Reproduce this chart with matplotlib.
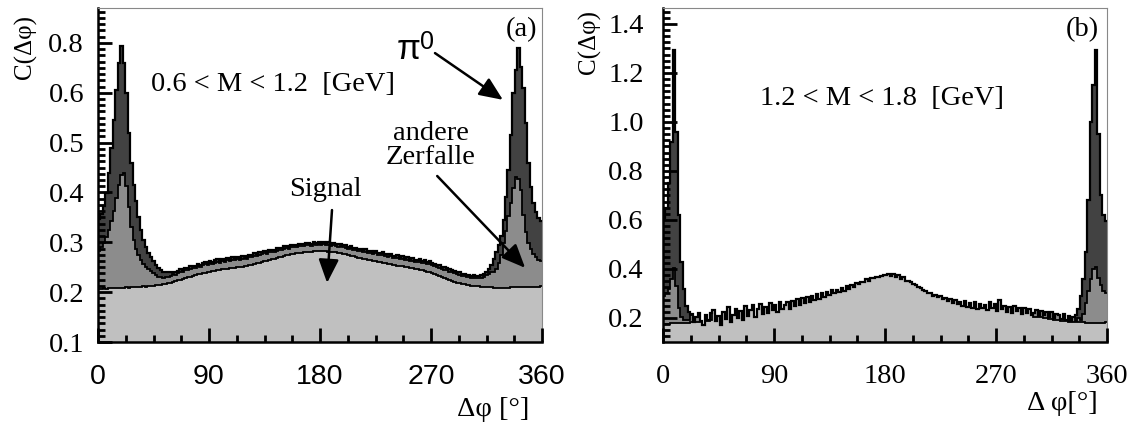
import numpy as np
import matplotlib
matplotlib.use('Agg')
import matplotlib.pyplot as plt
from matplotlib.ticker import FixedLocator, NullFormatter

SERIF = ['Liberation Serif', 'DejaVu Serif']
SANS = ['Liberation Sans', 'DejaVu Sans']

# ---------------- data ----------------
bin_edges = np.arange(0, 361, 2)          # Delta phi bin edges [deg]

# panel (a): 0.6 < M < 1.2 GeV  (cumulative stack levels)
signal_a = [
    0.207, 0.207, 0.208, 0.207, 0.208, 0.208, 0.209, 0.208, 0.209, 0.209,
    0.209, 0.210, 0.209, 0.210, 0.210, 0.211, 0.210, 0.211, 0.212, 0.211,
    0.212, 0.213, 0.212, 0.214, 0.214, 0.215, 0.216, 0.217, 0.218, 0.219,
    0.221, 0.222, 0.224, 0.225, 0.227, 0.228, 0.230, 0.231, 0.233, 0.234,
    0.236, 0.237, 0.238, 0.239, 0.240, 0.241, 0.242, 0.243, 0.244, 0.245,
    0.246, 0.246, 0.247, 0.248, 0.248, 0.249, 0.250, 0.250, 0.251, 0.252,
    0.253, 0.254, 0.255, 0.256, 0.258, 0.259, 0.260, 0.262, 0.263, 0.265,
    0.266, 0.267, 0.269, 0.270, 0.271, 0.273, 0.274, 0.275, 0.276, 0.277,
    0.278, 0.278, 0.279, 0.280, 0.280, 0.281, 0.281, 0.282, 0.282, 0.282,
    0.282, 0.282, 0.282, 0.281, 0.281, 0.281, 0.280, 0.279, 0.278, 0.277,
    0.276, 0.275, 0.273, 0.272, 0.271, 0.269, 0.268, 0.267, 0.266, 0.265,
    0.264, 0.263, 0.262, 0.261, 0.260, 0.259, 0.258, 0.257, 0.256, 0.255,
    0.254, 0.253, 0.253, 0.252, 0.251, 0.250, 0.249, 0.248, 0.247, 0.246,
    0.245, 0.244, 0.243, 0.241, 0.240, 0.238, 0.236, 0.234, 0.232, 0.230,
    0.228, 0.226, 0.224, 0.222, 0.221, 0.219, 0.218, 0.217, 0.216, 0.215,
    0.214, 0.213, 0.213, 0.212, 0.212, 0.211, 0.211, 0.210, 0.210, 0.210,
    0.209, 0.209, 0.209, 0.209, 0.209, 0.209, 0.209, 0.210, 0.210, 0.210,
    0.210, 0.210, 0.210, 0.210, 0.211, 0.210, 0.211, 0.211, 0.211, 0.212,
]
signal_other_a = [
    0.282, 0.290, 0.298, 0.310, 0.325, 0.342, 0.362, 0.388, 0.415, 0.435,
    0.440, 0.412, 0.370, 0.330, 0.305, 0.287, 0.274, 0.265, 0.257, 0.251,
    0.246, 0.242, 0.238, 0.234, 0.231, 0.230, 0.229, 0.230, 0.231, 0.232,
    0.236, 0.235, 0.239, 0.241, 0.240, 0.245, 0.244, 0.247, 0.249, 0.248,
    0.252, 0.250, 0.254, 0.256, 0.254, 0.258, 0.257, 0.259, 0.261, 0.259,
    0.262, 0.261, 0.264, 0.262, 0.265, 0.264, 0.266, 0.265, 0.267, 0.268,
    0.267, 0.270, 0.271, 0.273, 0.272, 0.275, 0.276, 0.278, 0.277, 0.280,
    0.281, 0.280, 0.283, 0.285, 0.284, 0.287, 0.288, 0.287, 0.290, 0.291,
    0.290, 0.292, 0.293, 0.292, 0.294, 0.295, 0.293, 0.296, 0.295, 0.296,
    0.295, 0.296, 0.294, 0.295, 0.293, 0.294, 0.292, 0.291, 0.292, 0.290,
    0.289, 0.287, 0.288, 0.285, 0.284, 0.283, 0.282, 0.280, 0.281, 0.279,
    0.278, 0.277, 0.278, 0.275, 0.274, 0.275, 0.272, 0.271, 0.272, 0.269,
    0.268, 0.269, 0.266, 0.267, 0.264, 0.265, 0.262, 0.263, 0.261, 0.260,
    0.261, 0.258, 0.259, 0.256, 0.257, 0.254, 0.252, 0.251, 0.249, 0.247,
    0.245, 0.244, 0.241, 0.240, 0.238, 0.236, 0.235, 0.233, 0.232, 0.231,
    0.230, 0.229, 0.229, 0.228, 0.228, 0.229, 0.231, 0.234, 0.237, 0.241,
    0.240, 0.246, 0.258, 0.275, 0.298, 0.322, 0.352, 0.378, 0.408, 0.430,
    0.426, 0.405, 0.355, 0.320, 0.298, 0.287, 0.277, 0.270, 0.265, 0.262,
]
total_a = [
    0.346, 0.356, 0.372, 0.398, 0.440, 0.490, 0.545, 0.610, 0.720, 0.786,
    0.720, 0.600, 0.520, 0.460, 0.415, 0.382, 0.350, 0.325, 0.305, 0.290,
    0.279, 0.270, 0.262, 0.254, 0.248, 0.244, 0.241, 0.240, 0.240, 0.241,
    0.241, 0.240, 0.243, 0.246, 0.244, 0.249, 0.248, 0.252, 0.253, 0.252,
    0.257, 0.255, 0.258, 0.261, 0.258, 0.263, 0.261, 0.264, 0.266, 0.263,
    0.267, 0.265, 0.269, 0.266, 0.270, 0.268, 0.271, 0.269, 0.272, 0.273,
    0.271, 0.275, 0.275, 0.278, 0.276, 0.280, 0.280, 0.283, 0.281, 0.285,
    0.285, 0.284, 0.288, 0.289, 0.288, 0.292, 0.292, 0.291, 0.295, 0.295,
    0.294, 0.297, 0.297, 0.296, 0.299, 0.299, 0.297, 0.301, 0.299, 0.301,
    0.299, 0.301, 0.298, 0.300, 0.297, 0.299, 0.296, 0.296, 0.296, 0.294,
    0.294, 0.291, 0.293, 0.289, 0.289, 0.287, 0.287, 0.284, 0.286, 0.283,
    0.283, 0.281, 0.283, 0.279, 0.279, 0.280, 0.276, 0.276, 0.277, 0.273,
    0.273, 0.274, 0.270, 0.272, 0.268, 0.270, 0.266, 0.268, 0.265, 0.265,
    0.266, 0.262, 0.264, 0.260, 0.262, 0.258, 0.257, 0.255, 0.254, 0.251,
    0.250, 0.248, 0.246, 0.244, 0.243, 0.240, 0.240, 0.237, 0.237, 0.235,
    0.235, 0.233, 0.234, 0.232, 0.233, 0.234, 0.237, 0.241, 0.247, 0.255,
    0.266, 0.280, 0.295, 0.313, 0.345, 0.390, 0.445, 0.515, 0.600, 0.690,
    0.780, 0.705, 0.620, 0.540, 0.460, 0.410, 0.378, 0.360, 0.348, 0.342,
]

# panel (b): 1.2 < M < 1.8 GeV  (cumulative stack levels)
signal_b = [
    0.176, 0.177, 0.177, 0.178, 0.178, 0.178, 0.179, 0.179, 0.180, 0.180,
    0.181, 0.182, 0.183, 0.184, 0.185, 0.186, 0.172, 0.188, 0.189, 0.190,
    0.232, 0.188, 0.210, 0.172, 0.225, 0.196, 0.245, 0.185, 0.214, 0.238,
    0.198, 0.228, 0.192, 0.248, 0.210, 0.232, 0.252, 0.205, 0.235, 0.258,
    0.215, 0.246, 0.222, 0.262, 0.232, 0.252, 0.226, 0.266, 0.238, 0.255,
    0.265, 0.236, 0.270, 0.248, 0.276, 0.252, 0.280, 0.260, 0.286, 0.266,
    0.288, 0.272, 0.296, 0.278, 0.300, 0.286, 0.306, 0.294, 0.314, 0.300,
    0.316, 0.306, 0.322, 0.312, 0.330, 0.318, 0.336, 0.328, 0.342, 0.340,
    0.348, 0.346, 0.358, 0.350, 0.364, 0.362, 0.366, 0.368, 0.372, 0.374,
    0.376, 0.378, 0.370, 0.378, 0.366, 0.374, 0.360, 0.366, 0.352, 0.350,
    0.346, 0.338, 0.336, 0.326, 0.324, 0.314, 0.312, 0.300, 0.302, 0.290,
    0.292, 0.284, 0.288, 0.276, 0.280, 0.270, 0.276, 0.262, 0.272, 0.258,
    0.264, 0.250, 0.268, 0.244, 0.262, 0.240, 0.266, 0.236, 0.258, 0.240,
    0.252, 0.234, 0.266, 0.240, 0.258, 0.228, 0.272, 0.236, 0.250, 0.226,
    0.246, 0.222, 0.248, 0.228, 0.242, 0.218, 0.240, 0.220, 0.236, 0.214,
    0.205, 0.205, 0.203, 0.202, 0.200, 0.198, 0.197, 0.195, 0.193, 0.192,
    0.190, 0.188, 0.187, 0.186, 0.185, 0.184, 0.183, 0.183, 0.182, 0.182,
    0.182, 0.181, 0.181, 0.180, 0.180, 0.180, 0.180, 0.180, 0.181, 0.182,
]
signal_other_b = [
    0.290, 0.300, 0.320, 0.358, 0.405, 0.330, 0.240, 0.205, 0.192, 0.190,
    0.190, 0.212, 0.183, 0.204, 0.222, 0.188, 0.172, 0.212, 0.190, 0.222,
    0.232, 0.188, 0.210, 0.172, 0.225, 0.196, 0.245, 0.185, 0.214, 0.238,
    0.198, 0.228, 0.192, 0.248, 0.210, 0.232, 0.252, 0.205, 0.235, 0.258,
    0.215, 0.246, 0.222, 0.262, 0.232, 0.252, 0.226, 0.266, 0.238, 0.255,
    0.265, 0.236, 0.270, 0.248, 0.276, 0.252, 0.280, 0.260, 0.286, 0.266,
    0.288, 0.272, 0.296, 0.278, 0.300, 0.286, 0.306, 0.294, 0.314, 0.300,
    0.316, 0.306, 0.322, 0.312, 0.330, 0.318, 0.336, 0.328, 0.342, 0.340,
    0.348, 0.346, 0.358, 0.350, 0.364, 0.362, 0.366, 0.368, 0.372, 0.374,
    0.376, 0.378, 0.370, 0.378, 0.366, 0.374, 0.360, 0.366, 0.352, 0.350,
    0.346, 0.338, 0.336, 0.326, 0.324, 0.314, 0.312, 0.300, 0.302, 0.290,
    0.292, 0.284, 0.288, 0.276, 0.280, 0.270, 0.276, 0.262, 0.272, 0.258,
    0.264, 0.250, 0.268, 0.244, 0.262, 0.240, 0.266, 0.236, 0.258, 0.240,
    0.252, 0.234, 0.266, 0.240, 0.258, 0.228, 0.272, 0.236, 0.250, 0.226,
    0.246, 0.222, 0.248, 0.228, 0.242, 0.218, 0.240, 0.220, 0.236, 0.214,
    0.222, 0.234, 0.210, 0.230, 0.212, 0.226, 0.205, 0.224, 0.200, 0.218,
    0.214, 0.195, 0.216, 0.192, 0.208, 0.188, 0.204, 0.186, 0.198, 0.192,
    0.215, 0.262, 0.310, 0.360, 0.400, 0.408, 0.365, 0.335, 0.312, 0.300,
]
total_b = [
    0.608, 0.650, 0.750, 0.920, 1.294, 0.960, 0.620, 0.430, 0.320, 0.250,
    0.225, 0.218, 0.183, 0.204, 0.222, 0.188, 0.172, 0.212, 0.190, 0.222,
    0.232, 0.188, 0.210, 0.172, 0.225, 0.196, 0.245, 0.185, 0.214, 0.238,
    0.198, 0.228, 0.192, 0.248, 0.210, 0.232, 0.252, 0.205, 0.235, 0.258,
    0.215, 0.246, 0.222, 0.262, 0.232, 0.252, 0.226, 0.266, 0.238, 0.255,
    0.265, 0.236, 0.270, 0.248, 0.276, 0.252, 0.280, 0.260, 0.286, 0.266,
    0.288, 0.272, 0.296, 0.278, 0.300, 0.286, 0.306, 0.294, 0.314, 0.300,
    0.316, 0.306, 0.322, 0.312, 0.330, 0.318, 0.336, 0.328, 0.342, 0.340,
    0.348, 0.346, 0.358, 0.350, 0.364, 0.362, 0.366, 0.368, 0.372, 0.374,
    0.376, 0.378, 0.370, 0.378, 0.366, 0.374, 0.360, 0.366, 0.352, 0.350,
    0.346, 0.338, 0.336, 0.326, 0.324, 0.314, 0.312, 0.300, 0.302, 0.290,
    0.292, 0.284, 0.288, 0.276, 0.280, 0.270, 0.276, 0.262, 0.272, 0.258,
    0.264, 0.250, 0.268, 0.244, 0.262, 0.240, 0.266, 0.236, 0.258, 0.240,
    0.252, 0.234, 0.266, 0.240, 0.258, 0.228, 0.272, 0.236, 0.250, 0.226,
    0.246, 0.222, 0.248, 0.228, 0.242, 0.218, 0.240, 0.220, 0.236, 0.214,
    0.222, 0.234, 0.210, 0.230, 0.212, 0.226, 0.205, 0.224, 0.200, 0.218,
    0.214, 0.195, 0.216, 0.192, 0.208, 0.188, 0.206, 0.212, 0.235, 0.290,
    0.360, 0.470, 0.680, 1.000, 1.150, 1.294, 0.950, 0.700, 0.620, 0.595,
]

x_ticks = [0, 90, 180, 270, 360]
x_ticklabels = ['0', '90', '180', '270', '360']
y_ticks_a = [0.1, 0.2, 0.3, 0.4, 0.5, 0.6, 0.8]
y_ticklabels_a = ['0.1', '0.2', '0.3', '0.4', '0.5', '0.6', '0.8']
y_ticks_b = [0.2, 0.4, 0.6, 0.8, 1.0, 1.2, 1.4]
y_ticklabels_b = ['0.2', '0.4', '0.6', '0.8', '1.0', '1.2', '1.4']

mass_label_a = '0.6 < M < 1.2  [GeV]'
mass_label_b = '1.2 < M < 1.8  [GeV]'

# ---------------- style ----------------
C_LIGHT = '#c0c0c0'
C_MID = '#8c8c8c'
C_DARK = '#424242'
FS = 20.5

# Non-uniform value axis of panel (a): tick values equally spaced
_scale_vals = np.array([0.0, 0.1, 0.2, 0.3, 0.4, 0.5, 0.6, 0.8, 1.0])
_scale_pos = np.array([-1.0, 0.0, 1.0, 2.0, 3.0, 4.0, 5.0, 6.0, 7.0])


def fwd_a(v):
    return np.interp(v, _scale_vals, _scale_pos)


def inv_a(p):
    return np.interp(p, _scale_pos, _scale_vals)


W, H = 1141, 422
fig = plt.figure(figsize=(W / 100, H / 100), dpi=100)
ax_a = fig.add_axes([98 / W, 80 / H, 444 / W, 334 / H])
ax_b = fig.add_axes([663 / W, 80 / H, 444 / W, 334 / H])


def draw_stack(ax, sig, sigoth, tot, base):
    sig = np.asarray(sig)
    sigoth = np.asarray(sigoth)
    tot = np.asarray(tot)
    ax.stairs(sig, bin_edges, baseline=base, fill=True, color=C_LIGHT, lw=0, zorder=1)
    ax.stairs(sigoth, bin_edges, baseline=sig, fill=True, color=C_MID, lw=0, zorder=1)
    ax.stairs(tot, bin_edges, baseline=sigoth, fill=True, color=C_DARK, lw=0, zorder=1)
    ax.stairs(sig, bin_edges, baseline=None, color='k', lw=1.3, zorder=2)
    ax.stairs(sigoth, bin_edges, baseline=None, color='k', lw=1.3, zorder=2)
    ax.stairs(tot, bin_edges, baseline=None, color='k', lw=1.6, zorder=3)


def style_axes(ax, xfont):
    ax.set_xlim(0, 360)
    ax.set_xticks(x_ticks)
    ax.set_xticklabels(x_ticklabels, family=xfont, fontsize=20.5)
    ax.xaxis.set_minor_locator(FixedLocator(np.arange(0, 361, 22.5)))
    for s in ('left', 'bottom'):
        ax.spines[s].set_linewidth(1.8)
        ax.spines[s].set_color('k')
    for s in ('top', 'right'):
        ax.spines[s].set_linewidth(0.8)
        ax.spines[s].set_color('#888888')
    ax.tick_params(which='both', direction='in', top=False, right=False,
                   width=2.0, color='k')
    ax.tick_params(which='major', length=10)
    ax.tick_params(which='minor', length=5)
    ax.tick_params(axis='x', which='major', pad=16)
    ax.set_axisbelow(False)


# ---- panel (a)
ax_a.set_yscale('function', functions=(fwd_a, inv_a))
draw_stack(ax_a, signal_a, signal_other_a, total_a, 0.0)
ax_a.set_ylim(0.1, inv_a(6.7))
ax_a.yaxis.set_major_locator(FixedLocator(y_ticks_a))
ax_a.yaxis.set_minor_locator(FixedLocator(inv_a(np.arange(0, 6.71, 0.125))))
ax_a.yaxis.set_minor_formatter(NullFormatter())
ax_a.set_yticklabels(y_ticklabels_a, family=SERIF, fontsize=FS)
style_axes(ax_a, SANS)
ax_a.tick_params(axis='y', which='major', pad=10)

# ---- panel (b)
draw_stack(ax_b, signal_b, signal_other_b, total_b, 0.0)
ax_b.set_ylim(0.102, 1.465)
ax_b.yaxis.set_major_locator(FixedLocator(y_ticks_b))
ax_b.yaxis.set_minor_locator(FixedLocator(np.arange(0.1, 1.47, 0.025)))
ax_b.yaxis.set_minor_formatter(NullFormatter())
ax_b.set_yticklabels(y_ticklabels_b, family=SERIF, fontsize=FS)
style_axes(ax_b, SERIF)
ax_b.tick_params(axis='y', which='major', pad=14)

# ---- axis titles
fig.text(25 / W, 1 - 47 / H, 'C(Δφ)', rotation=90, ha='center', va='center',
         family=SERIF, fontsize=18)
fig.text(589 / W, 1 - 42 / H, 'C(Δφ)', rotation=90, ha='center', va='center',
         family=SERIF, fontsize=18)
fig.text(493 / W, 1 - 409 / H, 'Δφ [°]', ha='center', va='center',
         family=SERIF, fontsize=FS)
fig.text(1062 / W, 1 - 404 / H, 'Δ φ[°]', ha='center', va='center',
         family=SERIF, fontsize=FS)

# ---- annotations panel (a)
tA = ax_a.transAxes
ax_a.text(0.394, 0.772, mass_label_a, transform=tA, ha='center', va='center',
          family=SERIF, fontsize=FS)
ax_a.text(0.953, 0.934, '(a)', transform=tA, ha='center', va='center',
          family=SERIF, fontsize=FS)
ax_a.text(0.700, 0.876, 'π', transform=tA, ha='center', va='center',
          family=SANS, fontsize=25)
ax_a.text(0.740, 0.897, '0', transform=tA, ha='center', va='center',
          family=SANS, fontsize=18)
ax_a.text(0.750, 0.587, 'andere\nZerfalle', transform=tA, ha='center', va='center',
          family=SERIF, fontsize=FS, linespacing=0.95)
ax_a.text(0.511, 0.458, 'Signal', transform=tA, ha='center', va='center',
          family=SERIF, fontsize=FS)

arrow_kw = dict(arrowstyle='-|>,head_length=0.65,head_width=0.28', color='k',
                lw=1.8, mutation_scale=22, shrinkA=0, shrinkB=0)
for tip, start in (((0.912, 0.725), (0.759, 0.865)),
                   ((0.962, 0.222), (0.764, 0.497)),
                   ((0.516, 0.177), (0.527, 0.395))):
    ax_a.annotate('', xy=tip, xycoords='axes fraction', xytext=start,
                  textcoords='axes fraction', arrowprops=arrow_kw, zorder=5)

# ---- annotations panel (b)
tB = ax_b.transAxes
ax_b.text(0.493, 0.728, mass_label_b, transform=tB, ha='center', va='center',
          family=SERIF, fontsize=FS)
ax_b.text(0.944, 0.934, '(b)', transform=tB, ha='center', va='center',
          family=SERIF, fontsize=FS)

fig.savefig('out.png', dpi=100)
